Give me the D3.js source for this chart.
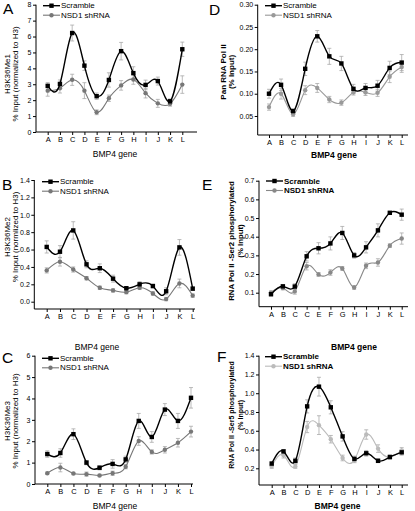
<!DOCTYPE html>
<html><head><meta charset="utf-8">
<script src="https://cdn.jsdelivr.net/npm/d3@7"></script>
<style>body{margin:0;background:#fff}svg{display:block;font-family:"Liberation Sans",Arial,sans-serif}</style>
</head><body><svg id="c" width="415" height="511"></svg>
<script>
// ---------- data ----------
const genes  = ["A","B","C","D","E","F","G","H","I","J","K","L"];
const genesE = ["A","B","C","C","E","F","G","H","I","J","K","L"];
const seriesNames = ["Scramble","NSD1 shRNA"];

const scrA    = [2.9, 3.02, 6.22, 4.17, 2.25, 3.27, 5.08, 3.7, 2.96, 3.2, 1.93, 5.2];
const scrAErr = [0.2, 0.25, 0.5, 0.3, 0.2, 0.45, 0.55, 0.4, 0.3, 0.25, 0.15, 0.45];
const nsdA    = [2.6, 2.75, 3.28, 2.6, 1.24, 2.12, 2.93, 3.3, 2.44, 1.8, 1.77, 2.98];
const nsdAErr = [0.35, 0.3, 0.35, 0.5, 0.15, 0.2, 0.3, 0.3, 0.3, 0.25, 0.15, 0.55];

const scrB    = [0.63, 0.575, 0.82, 0.43, 0.385, 0.265, 0.155, 0.2, 0.18, 0.12, 0.625, 0.15];
const scrBErr = [0.07, 0.07, 0.1, 0.04, 0.05, 0.04, 0.02, 0.03, 0.02, 0.04, 0.09, 0.02];
const nsdB    = [0.36, 0.46, 0.37, 0.27, 0.16, 0.13, 0.11, 0.16, 0.095, 0.03, 0.21, 0.07];
const nsdBErr = [0.03, 0.05, 0.03, 0.02, 0.02, 0.02, 0.02, 0.02, 0.02, 0.02, 0.05, 0.02];

const scrC    = [1.4, 1.45, 2.33, 1.0, 0.76, 0.94, 1.15, 2.95, 2.2, 3.48, 2.95, 4.03];
const scrCErr = [0.15, 0.2, 0.25, 0.1, 0.1, 0.2, 0.15, 0.35, 0.25, 0.28, 0.35, 0.48];
const nsdC    = [0.5, 0.77, 0.49, 0.46, 0.4, 0.5, 0.81, 2.01, 1.5, 1.6, 1.93, 2.45];
const nsdCErr = [0.05, 0.2, 0.05, 0.1, 0.05, 0.1, 0.1, 0.2, 0.1, 0.15, 0.2, 0.25];

const scrD    = [0.100, 0.120, 0.061, 0.156, 0.229, 0.184, 0.168, 0.111, 0.113, 0.118, 0.158, 0.170];
const scrDErr = [0.010, 0.013, 0.005, 0.015, 0.013, 0.018, 0.016, 0.010, 0.010, 0.012, 0.015, 0.018];
const nsdD    = [0.070, 0.100, 0.054, 0.108, 0.113, 0.087, 0.080, 0.103, 0.103, 0.102, 0.138, 0.160];
const nsdDErr = [0.007, 0.012, 0.005, 0.010, 0.010, 0.007, 0.006, 0.006, 0.007, 0.008, 0.013, 0.012];

const scrE    = [0.092, 0.134, 0.133, 0.295, 0.338, 0.364, 0.42, 0.30, 0.343, 0.434, 0.528, 0.518];
const scrEErr = [0.01, 0.01, 0.015, 0.025, 0.03, 0.035, 0.035, 0.015, 0.03, 0.035, 0.005, 0.03];
const nsdE    = [0.10, 0.125, 0.107, 0.242, 0.198, 0.208, 0.23, 0.128, 0.244, 0.262, 0.352, 0.39];
const nsdEErr = [0.01, 0.01, 0.015, 0.02, 0.01, 0.015, 0.01, 0.01, 0.015, 0.02, 0.01, 0.03];

const scrF    = [0.25, 0.38, 0.28, 0.86, 1.07, 0.85, 0.54, 0.30, 0.36, 0.28, 0.32, 0.37];
const scrFErr = [0.02, 0.02, 0.03, 0.07, 0.1, 0.07, 0.05, 0.03, 0.03, 0.02, 0.02, 0.03];
const nsdF    = [0.22, 0.34, 0.22, 0.64, 0.66, 0.51, 0.31, 0.29, 0.56, 0.41, 0.32, 0.39];
const nsdFErr = [0.02, 0.03, 0.02, 0.06, 0.1, 0.04, 0.03, 0.03, 0.05, 0.04, 0.02, 0.03];

const ticksA = [0,1,2,3,4,5,6,7,8];
const ticksB = [0,0.2,0.4,0.6,0.8,1.0,1.2,1.4];
const ticksC = [0,1,2,3,4,5,6];
const ticksD = [0.05,0.10,0.15,0.20,0.25,0.30];
const ticksE = [0.1,0.2,0.3,0.4,0.5,0.6,0.7];
const ticksF = [0.2,0.4,0.6,0.8,1.0,1.2,1.4];

// ---------- layout ----------
const panels = [
 {letter:"A", lx:3, ly:14, labels:genes, scr:scrA, scrErr:scrAErr, nsd:nsdA, nsdErr:nsdAErr, ticks:ticksA, fmt:d3.format("d"),
  ax:36, axR:197, x0:47.7, x1:182.3, dom:[0,8], yBot:132, yTop:4.7, gray:"#777",
  t1:"H3K36Me1", t2:"% Input (normalized to H3)", tx:[7,15], ty:74, bold:false, tfs:8,
  gx:115, gy:154, legX:43, legY:5.7},
 {letter:"B", lx:2, ly:190, labels:genes, scr:scrB, scrErr:scrBErr, nsd:nsdB, nsdErr:nsdBErr, ticks:ticksB, fmt:d3.format(".1f"),
  ax:34.3, axR:195, x0:46.7, x1:192.7, dom:[-0.084,1.4], yBot:309, yTop:180, gray:"#777",
  t1:"H3K36Me2", t2:"% Input (normlized to H3)", tx:[7,15], ty:237, bold:false, tfs:8,
  gx:97, gy:346.7, legX:42, legY:181.7},
 {letter:"C", lx:2, ly:363, labels:genes, scr:scrC, scrErr:scrCErr, nsd:nsdC, nsdErr:nsdCErr, ticks:ticksC, fmt:d3.format("d"),
  ax:35, axR:193, x0:47.3, x1:191, dom:[0,6], yBot:484, yTop:355.7, gray:"#777",
  t1:"H3K36Me3", t2:"% Input (normalized to H3)", tx:[7,15], ty:421, bold:false, tfs:8,
  gx:115, gy:505.7, legX:42, legY:358.3},
 {letter:"D", lx:209, ly:15, labels:genes, scr:scrD, scrErr:scrDErr, nsd:nsdD, nsdErr:nsdDErr, ticks:ticksD, fmt:d3.format(".2f"),
  ax:257.7, axR:408, x0:269, x1:401.7, dom:[0.0073,0.30], yBot:135, yTop:4.7, gray:"#999",
  t1:"Pan RNA Pol II", t2:"(% Input)", tx:[223,231.7], ty:72, bold:true, tfs:8,
  gx:334, gy:155, legX:265, legY:5.7},
 {letter:"E", lx:202, ly:190, labels:genesE, scr:scrE, scrErr:scrEErr, nsd:nsdE, nsdErr:nsdEErr, ticks:ticksE, fmt:d3.format(".1f"),
  ax:259, axR:408, x0:271, x1:401.7, dom:[0.025,0.7], yBot:306.7, yTop:180.7, gray:"#888",
  t1:"RNA Pol II -Ser2 phosphorylated", t2:"(% Input)", tx:[231.7,240.7], ty:241, bold:true, tfs:7.8,
  gx:354, gy:346.7, legX:266, legY:181},
 {letter:"F", lx:217, ly:362, labels:genes, scr:scrF, scrErr:scrFErr, nsd:nsdF, nsdErr:nsdFErr, ticks:ticksF, fmt:d3.format(".1f"),
  ax:259, axR:408, x0:271.7, x1:401.7, dom:[0.022,1.4], yBot:485, yTop:355.7, gray:"#bbb",
  t1:"RNA Pol II -Ser5 phosphorylated", t2:"(% Input)", tx:[231.7,240], ty:415, bold:true, tfs:7,
  gx:337.5, gy:505.7, legX:265, legY:356.7}
];

const svg = d3.select("#c");
const errCol = "#aaa";

panels.forEach(p => {
  const g = svg.append("g");
  const idx = d3.range(p.labels.length);
  const x = d3.scalePoint().domain(idx).range([p.x0, p.x1]);
  const y = d3.scaleLinear().domain(p.dom).range([p.yBot, p.yTop]);

  // panel letter
  g.append("text").attr("x", p.lx).attr("y", p.ly).attr("font-size", 15.5).text(p.letter);

  // x axis
  const xa = g.append("g").attr("transform", `translate(0,${p.yBot})`)
    .call(d3.axisBottom(x).tickSize(3).tickPadding(2).tickFormat(i => p.labels[i]));
  xa.select(".domain").remove();
  xa.append("line").attr("x1", p.ax).attr("x2", p.axR).attr("stroke", "#000").attr("stroke-width", 1);
  xa.selectAll("text").attr("font-size", 7.5).attr("fill", "#000").attr("font-family", null);

  // y axis
  const ya = g.append("g").attr("transform", `translate(${p.ax},0)`)
    .call(d3.axisLeft(y).tickValues(p.ticks).tickFormat(p.fmt).tickSize(3).tickPadding(1.5));
  ya.select(".domain").remove();
  ya.append("line").attr("y1", p.yBot).attr("y2", y(p.dom[1])).attr("stroke", "#000");
  ya.selectAll("text").attr("font-size", 7).attr("fill", "#000").attr("font-family", null);

  // titles
  const fw = p.bold ? "bold" : "normal";
  [p.t1, p.t2].forEach((t, k) => {
    g.append("text").attr("transform", `translate(${p.tx[k]},${p.ty}) rotate(-90)`)
      .attr("text-anchor", "middle").attr("dominant-baseline", "central")
      .attr("font-size", p.tfs).attr("font-weight", fw).text(t);
  });
  g.append("text").attr("x", p.gx).attr("y", p.gy).attr("text-anchor", "middle")
    .attr("dominant-baseline", "central").attr("font-size", 8.5).attr("font-weight", fw).text("BMP4 gene");

  // series
  const series = [
    {vals:p.nsd, err:p.nsdErr, col:p.gray, shape:"circle", w:1.1},
    {vals:p.scr, err:p.scrErr, col:"#000", shape:"square", w:1.4}
  ];
  series.forEach(s => {
    const eb = g.append("g").attr("stroke", errCol).attr("stroke-width", 0.8);
    idx.forEach(i => {
      const cx = x(i), lo = y(s.vals[i] - s.err[i]), hi = y(s.vals[i] + s.err[i]);
      eb.append("line").attr("x1", cx).attr("x2", cx).attr("y1", lo).attr("y2", hi);
      eb.append("line").attr("x1", cx - 2).attr("x2", cx + 2).attr("y1", lo).attr("y2", lo);
      eb.append("line").attr("x1", cx - 2).attr("x2", cx + 2).attr("y1", hi).attr("y2", hi);
    });
  });
  series.forEach(s => {
    const line = d3.line().x(i => x(i)).y(i => y(s.vals[i])).curve(d3.curveNatural);
    g.append("path").datum(idx).attr("d", line).attr("fill", "none")
      .attr("stroke", s.col).attr("stroke-width", s.w);
    if (s.shape === "square") {
      g.selectAll(null).data(idx).enter().append("rect")
        .attr("x", i => x(i) - 2.2).attr("y", i => y(s.vals[i]) - 2.2)
        .attr("width", 4.4).attr("height", 4.4).attr("fill", s.col);
    } else {
      g.selectAll(null).data(idx).enter().append("circle")
        .attr("cx", i => x(i)).attr("cy", i => y(s.vals[i])).attr("r", 2.2).attr("fill", s.col);
    }
  });

  // legend
  const lg = g.append("g");
  [{col:"#000", shape:"square", w:1.4}, {col:p.gray, shape:"circle", w:1.1}].forEach((s, k) => {
    const ly = p.legY + k * 9.5, lx = p.legX;
    lg.append("line").attr("x1", lx).attr("x2", lx + 17).attr("y1", ly).attr("y2", ly)
      .attr("stroke", s.col).attr("stroke-width", s.w);
    if (s.shape === "square") lg.append("rect").attr("x", lx + 6.3).attr("y", ly - 2.2).attr("width", 4.4).attr("height", 4.4).attr("fill", s.col);
    else lg.append("circle").attr("cx", lx + 8.5).attr("cy", ly).attr("r", 2.2).attr("fill", s.col);
    lg.append("text").attr("x", lx + 18).attr("y", ly).attr("dominant-baseline", "central")
      .attr("font-size", 8).attr("font-weight", p.letter === "E" || p.letter === "F" ? "bold" : "normal")
      .text(seriesNames[k]);
  });
});
</script></body></html>
